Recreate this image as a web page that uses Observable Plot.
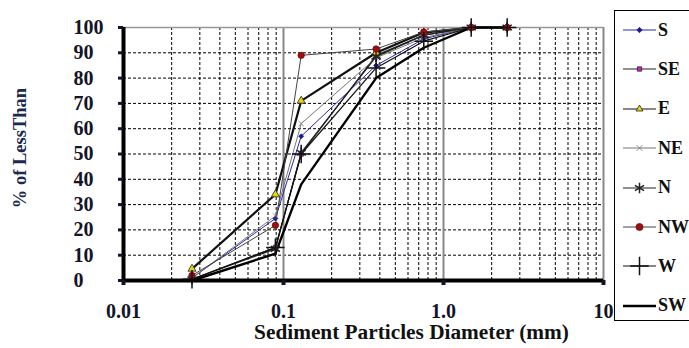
<!DOCTYPE html>
<html>
<head>
<meta charset="utf-8">
<script src="https://cdn.jsdelivr.net/npm/d3@7"></script>
<script src="https://cdn.jsdelivr.net/npm/@observablehq/plot@0.6"></script>
<style>
  html, body { margin: 0; padding: 0; background: #fff; overflow: hidden; }
  #wrap { position: relative; width: 689px; height: 348px; }
  #legend { position: absolute; left: 614px; top: 10px; width: 90px; height: 311px;
    border: 1px solid #000; box-sizing: border-box; background: #fff;
    font-family: "Liberation Serif", serif; font-weight: bold; font-size: 18px; color: #111; }
  .item { position: absolute; left: 8px; display: flex; align-items: center; height: 20px; }
  .item svg { display: block; margin-right: 1px; }
  #chart svg text { font-family: "Liberation Serif", serif; }
</style>
</head>
<body>
<div id="wrap"><div id="chart"></div><div id="legend"></div></div>
<script>
// Sediment particle diameter (mm)
const diameters = [0.0268, 0.089, 0.129, 0.379, 0.753, 1.49, 2.5];
// % finer than, per station
const S  = [1, 24.5, 57, 85, 95.5, 100, 100];
const SE = [0.5, 13, 50, 89, 97, 100, 100];
const E  = [4.6, 34, 71, 90, 98, 100, 100];
const NE = [1, 25.5, 62, 88, 96, 100, 100];
const N  = [0.5, 12.5, 50.5, 88.5, 97, 100, 100];
const NW = [2, 21.8, 89, 91.5, 98.2, 100, 100];
const W  = [0.5, 13, 50, 84, 94.6, 100, 100];
const SW = [0, 10.6, 38, 80, 92, 100, 100];

const seriesNames = ["S", "SE", "E", "NE", "N", "NW", "W", "SW"];
const seriesValues = [S, SE, E, NE, N, NW, W, SW];

const xTicks = [0.01, 0.1, 1, 10];
const xTickLabels = ["0.01", "0.1", "1.0", "10"];
const yTicks = [0, 10, 20, 30, 40, 50, 60, 70, 80, 90, 100];
const xTitle = "Sediment Particles Diameter (mm)";
const yTitle = "% of LessThan";

// styles per series
const styles = {
  S:  {stroke: "#2a2aa8", width: 1,   symbol: "diamond2", fill: "#1a1a99", r: 2.2, mstroke: "#1a1a99"},
  SE: {stroke: "#222",    width: 1.2, symbol: "square",   fill: "#d020d0", r: 2.5, mstroke: "#222"},
  E:  {stroke: "#111",    width: 2.2, symbol: "triangle", fill: "#e8d800", r: 3,   mstroke: "#222"},
  NE: {stroke: "#777",    width: 1,   symbol: "times",    fill: "none",    r: 2.5, mstroke: "#777"},
  N:  {stroke: "#222",    width: 1.2, symbol: "asterisk", fill: "none",    r: 5,   mstroke: "#222"},
  NW: {stroke: "#444",    width: 1,   symbol: "circle",   fill: "#9a1010", r: 3.2, mstroke: "#7a0a0a"},
  W:  {stroke: "#111",    width: 1.2, symbol: "plus",     fill: "none",    r: 6,   mstroke: "#111"},
  SW: {stroke: "#000",    width: 2.4, symbol: null}
};

const rows = [];
seriesNames.forEach((name, i) => {
  seriesValues[i].forEach((v, j) => rows.push({series: name, d: diameters[j], p: v}));
});

const minor = [];
for (let k = -2; k <= 0; k++) for (let m = 2; m <= 9; m++) minor.push(m * Math.pow(10, k));

const lineMarks = [];
const dotMarks = [];
seriesNames.forEach(name => {
  const st = styles[name];
  const data = rows.filter(r => r.series === name);
  lineMarks.push(Plot.line(data, {x: "d", y: "p", stroke: st.stroke, strokeWidth: st.width}));
  if (st.symbol) {
    dotMarks.push(Plot.dot(data, {x: "d", y: "p", symbol: () => st.symbol, r: st.r,
      fill: st.fill, stroke: st.mstroke, strokeWidth: st.symbol === "asterisk" || st.symbol === "plus" ? 1.5 : 0.8}));
  }
});

const plot = Plot.plot({
  width: 689,
  height: 348,
  marginLeft: 123,
  marginRight: 86,
  marginTop: 27,
  marginBottom: 68,
  style: {fontFamily: "'Liberation Serif', serif", fontSize: "20px", fontWeight: "bold", color: "#141428", background: "#fff"},
  x: {type: "log", domain: [0.01, 10]},
  y: {domain: [0, 100]},
  marks: [
    Plot.ruleX(minor, {stroke: "#000", strokeWidth: 1, strokeDasharray: "3,2"}),
    Plot.ruleY(yTicks.filter(v => v > 0 && v < 100), {stroke: "#000", strokeWidth: 1, strokeDasharray: "3,2"}),
    Plot.ruleX([0.1, 1, 10], {stroke: "#888", strokeWidth: 2}),
    Plot.ruleY([100], {stroke: "#999", strokeWidth: 1.5}),
    ...lineMarks,
    ...dotMarks,
    Plot.ruleX([0.01], {stroke: "#000", strokeWidth: 4}),
    Plot.ruleY([0], {stroke: "#000", strokeWidth: 4}),
    Plot.axisY({ticks: yTicks, tickSize: 5, strokeWidth: 3, tickFormat: () => "", label: null}),
    Plot.axisY({ticks: yTicks, tickSize: 0, tickPadding: 50, textAnchor: "start", label: null}),
    Plot.axisX({ticks: xTicks, tickSize: 5, strokeWidth: 4, tickFormat: () => "", label: null}),
    Plot.axisX({ticks: xTicks, tickSize: 0, tickPadding: 23, tickFormat: d => xTickLabels[xTicks.indexOf(d)], label: null}),
    Plot.text([xTitle], {frameAnchor: "bottom", dy: 58, dx: 48, fontSize: 21.3, fontWeight: "bold", fill: "#111"}),
    Plot.text([yTitle], {frameAnchor: "left", rotate: -90, textAnchor: "middle", dx: -103, dy: -6, fontSize: 18.5, fontWeight: "bold", fill: "#1b2a4e"})
  ]
});
document.getElementById("chart").appendChild(plot);

// Legend
const legend = document.getElementById("legend");
const ns = "http://www.w3.org/2000/svg";
seriesNames.forEach((name, i) => {
  const st = styles[name];
  const item = document.createElement("div");
  item.className = "item";
  item.style.top = (9 + i * 39.4) + "px";
  const svg = document.createElementNS(ns, "svg");
  svg.setAttribute("width", 34);
  svg.setAttribute("height", 20);
  const ln = document.createElementNS(ns, "line");
  ln.setAttribute("x1", 0); ln.setAttribute("x2", 33); ln.setAttribute("y1", 10); ln.setAttribute("y2", 10);
  ln.setAttribute("stroke", st.stroke); ln.setAttribute("stroke-width", name === "SW" ? 2.4 : 1.2);
  svg.appendChild(ln);
  if (st.symbol) {
    const sym = d3.symbol().type({
      diamond2: d3.symbolDiamond2, square: d3.symbolSquare2 || d3.symbolSquare, triangle: d3.symbolTriangle2 || d3.symbolTriangle,
      times: d3.symbolTimes || d3.symbolX, asterisk: d3.symbolAsterisk, circle: d3.symbolCircle, plus: d3.symbolPlus
    }[st.symbol]).size(Math.PI * st.r * st.r * (st.symbol === "plus" || st.symbol === "asterisk" ? 1 : 1.2));
    const p = document.createElementNS(ns, "path");
    p.setAttribute("d", sym());
    p.setAttribute("transform", "translate(16.5,10)");
    p.setAttribute("fill", st.fill);
    p.setAttribute("stroke", st.mstroke);
    p.setAttribute("stroke-width", st.symbol === "asterisk" || st.symbol === "plus" ? 1.5 : 0.8);
    svg.appendChild(p);
  }
  item.appendChild(svg);
  const t = document.createElement("span");
  t.textContent = name;
  item.appendChild(t);
  legend.appendChild(item);
});
</script>
</body>
</html>
